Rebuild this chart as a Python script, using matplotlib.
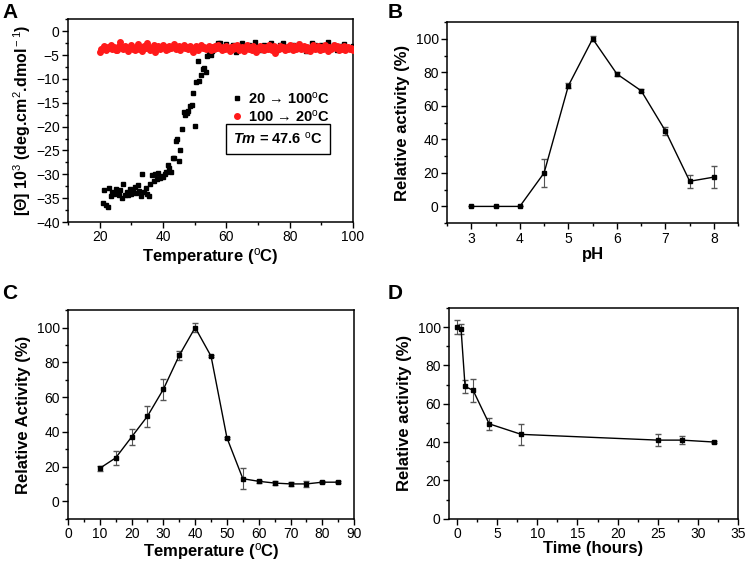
import numpy as np
import matplotlib.pyplot as plt
from matplotlib.ticker import MultipleLocator

plt.rcParams['font.family'] = ['Liberation Sans', 'DejaVu Sans']
plt.rcParams['mathtext.fontset'] = 'custom'
plt.rcParams['mathtext.rm'] = 'Liberation Sans'
plt.rcParams['mathtext.it'] = 'Liberation Sans:italic:bold'
plt.rcParams['mathtext.bf'] = 'Liberation Sans:bold'

# Panel A: CD melting curve
temp_up = [21, 21.5, 22, 22.5, 23, 23.5, 24, 24.5, 25, 25.5, 26, 26.5, 27, 27.5, 28, 28.5,
           29, 29.5, 30, 30.5, 31, 31.5, 32, 32.5, 33, 33.5, 34, 34.5, 35, 35.5, 36, 36.5,
           37, 37.5, 38, 38.5, 39, 39.5, 40, 40.5, 41, 41.5, 42, 42.5, 43, 43.5, 44, 44.5,
           45, 45.5, 46, 46.5, 47, 47.5, 48, 48.5, 49, 49.5, 50, 50.5, 51, 51.5, 52, 52.5,
           53, 53.5, 54, 54.5, 55, 55.5, 56, 56.5, 57, 57.5, 58,
           59, 60, 61, 62, 63, 64, 65, 66, 67, 68, 69, 70, 71, 72, 73, 74, 75, 76, 77, 78,
           79, 80, 81, 82, 83, 84, 85, 86, 87, 88, 89, 90, 91, 92, 93, 94, 95, 96, 97, 98,
           99, 100]
theta_up = [-36.0, -33.3, -36.5, -36.8, -32.8, -34.5, -33.6, -34.2, -33.0, -33.6, -34.4, -33.2,
            -35.0, -32.0, -34.3, -33.6, -34.4, -33.1, -34.2, -33.2, -32.6, -34.0, -32.3, -33.5,
            -34.5, -29.9, -33.8, -32.9, -34.1, -34.6, -32.0, -30.1, -31.5, -30.0, -31.0, -29.8,
            -30.8, -30.3, -30.6, -30.0, -29.6, -28.0, -28.6, -29.5, -26.5, -26.6, -23.0, -22.5,
            -27.3, -25.0, -20.4, -17.0, -17.5, -17.2, -16.8, -15.7, -15.5, -13.0, -19.8, -10.6,
            -6.3, -10.5, -9.2, -8.0, -7.8, -8.5, -5.2, -4.5, -5.0, -4.2, -3.8, -3.3, -2.9, -2.4,
            -2.5,
            -3.5, -2.6, -3.9, -3.0, -4.3, -3.6, -2.4, -3.4, -2.8, -3.8, -2.3, -3.3, -4.0, -2.9,
            -3.7, -2.5, -3.5, -3.9, -3.0, -2.4, -3.4, -3.8, -2.8, -3.6, -2.6, -3.3, -4.1, -3.5,
            -2.5, -3.0, -3.7, -2.8, -3.4, -2.2, -3.6, -2.9, -3.9, -3.1, -2.6, -3.5, -3.7, -3.2]
temp_down = list(np.arange(20, 100.01, 0.5))
theta_down = [-4.3, -3.8, -3.5, -3.2, -3.9, -3.4, -3.6, -2.8, -3.7, -3.3,
              -3.9, -4.0, -3.1, -2.3, -3.6, -3.8, -3.2, -3.5, -4.2, -3.4,
              -3.0, -3.7, -3.9, -3.3, -2.6, -3.8, -3.5, -4.1, -3.2, -3.6,
              -2.5, -3.4, -3.9, -3.7, -3.0, -4.3, -3.5, -3.2, -3.8, -3.6,
              -2.9, -3.4, -4.0, -3.7, -3.1, -3.5, -3.3, -2.7, -3.8, -3.6,
              -3.2, -3.9, -3.4, -3.0, -3.6, -3.3, -3.8, -3.1, -3.5, -4.4,
              -3.7, -3.2, -3.9, -3.4, -3.0, -3.6, -3.3, -3.8, -3.5, -3.1,
              -4.0, -3.4, -3.7, -3.2, -3.6, -2.9, -3.5, -3.9, -3.3, -3.7,
              -3.1, -3.6, -4.1, -3.4, -3.8, -3.2, -3.5, -2.8, -3.9, -3.6,
              -3.3, -4.2, -3.5, -3.0, -3.7, -3.4, -3.9, -3.2, -3.6, -4.3,
              -3.5, -3.1, -3.8, -3.4, -4.0, -3.3, -3.7, -2.9, -3.6, -3.9,
              -3.2, -4.6, -3.5, -3.8, -3.1, -3.6, -3.4, -4.0, -3.3, -3.7,
              -3.0, -3.5, -3.9, -3.2, -3.7, -3.4, -2.6, -3.8, -3.5, -3.1,
              -3.9, -3.3, -3.6, -4.1, -3.4, -2.8, -3.7, -3.5, -3.2, -3.9,
              -3.4, -3.7, -3.0, -3.6, -4.2, -3.3, -3.8, -3.5, -2.9, -3.6,
              -3.2, -3.9, -3.4, -3.7, -3.1, -4.0, -3.5, -3.3, -3.8, -3.6,
              -3.9]

# Panel B: pH profile
ph = [3, 3.5, 4, 4.5, 5, 5.5, 6, 6.5, 7, 7.5, 8]
act_ph = [0, 0, 0, 20, 72, 100, 79, 69, 45, 15, 17.5]
err_ph = [0, 0, 0, 8.5, 1.5, 1.5, 1, 1, 2.5, 4, 6.5]

# Panel C: temperature profile
temp_c = [10, 15, 20, 25, 30, 35, 40, 45, 50, 55, 60, 65, 70, 75, 80, 85]
act_c = [19, 25, 37, 49, 64.5, 84, 100, 83.5, 36.5, 13, 11.5, 10.5, 10, 10, 11, 11]
err_c = [1.5, 4, 4.5, 6, 6, 2.5, 2.5, 0.5, 0.5, 6, 1, 1, 1, 1.5, 0.5, 0.5]

# Panel D: stability over time
hours = [0, 0.5, 1, 2, 4, 8, 25, 28, 32]
act_d = [100, 99, 69, 67, 49.5, 44, 41, 41, 40]
err_d = [3.5, 2.5, 3.5, 6, 3, 5.5, 3, 2, 0.5]

fig = plt.figure(figsize=(7.45, 5.65), dpi=100)
axA = fig.add_axes([0.0913, 0.607, 0.3826, 0.359])
axB = fig.add_axes([0.600, 0.605, 0.391, 0.356])
axC = fig.add_axes([0.0913, 0.082, 0.384, 0.369])
axD = fig.add_axes([0.6027, 0.082, 0.388, 0.373])


def estilo(ax):
    for s in ax.spines.values():
        s.set_linewidth(1.1)
    ax.tick_params(which='major', direction='out', length=4, width=1, labelsize=10, pad=2)
    ax.tick_params(which='minor', direction='out', length=2.5, width=1)


# A
axA.plot(temp_up, theta_up, 's', color='black', ms=3, label=r'20 → 100$^{\rm o}$C', zorder=2)
axA.plot(temp_down, theta_down, 'o', color='#ff1a1a', ms=4, label=r'100 → 20$^{\rm o}$C', zorder=3)
axA.set_xlim(10, 100)
axA.set_ylim(-40, 2.5)
axA.xaxis.set_major_locator(MultipleLocator(20))
axA.xaxis.set_minor_locator(MultipleLocator(10))
axA.yaxis.set_major_locator(MultipleLocator(5))
axA.yaxis.set_minor_locator(MultipleLocator(2.5))
axA.set_xlabel('Temperature ($^{\\rm o}$C)', fontsize=12, fontweight='bold', labelpad=1)
axA.set_ylabel('[Θ] 10$^{\\rm 3}$ (deg.cm$^{\\rm 2}$.dmol$^{\\rm -1}$)', fontsize=11.5,
               fontweight='bold', labelpad=2)
leg = axA.legend(loc='upper left', bbox_to_anchor=(0.54, 0.70), frameon=False,
                 handlelength=0.6, handletextpad=0.5, borderpad=0.2, labelspacing=0.15,
                 prop={'weight': 'bold', 'size': 10.5})
axA.text(0.737, 0.41, r'$Tm$ = 47.6 $^{\rm o}$C', transform=axA.transAxes, ha='center',
         va='center', fontsize=10.5, fontweight='bold',
         bbox=dict(boxstyle='square,pad=0.5', fc='white', ec='black', lw=1))
estilo(axA)

# B
axB.errorbar(ph, act_ph, yerr=err_ph, fmt='-s', color='black', ms=3.5, lw=1,
             ecolor='#555555', elinewidth=0.8, capsize=2.5)
axB.set_xlim(2.5, 8.5)
axB.set_ylim(-10, 110)
axB.xaxis.set_major_locator(MultipleLocator(1))
axB.xaxis.set_minor_locator(MultipleLocator(0.5))
axB.yaxis.set_major_locator(MultipleLocator(20))
axB.yaxis.set_minor_locator(MultipleLocator(10))
axB.set_xlabel('pH', fontsize=12, fontweight='bold', labelpad=1)
axB.set_ylabel('Relative activity (%)', fontsize=12, fontweight='bold', labelpad=4)
estilo(axB)

# C
axC.errorbar(temp_c, act_c, yerr=err_c, fmt='-s', color='black', ms=3.5, lw=1,
             ecolor='#555555', elinewidth=0.8, capsize=2.5)
axC.set_xlim(0, 90)
axC.set_ylim(-10, 110)
axC.xaxis.set_major_locator(MultipleLocator(10))
axC.xaxis.set_minor_locator(MultipleLocator(5))
axC.yaxis.set_major_locator(MultipleLocator(20))
axC.yaxis.set_minor_locator(MultipleLocator(10))
axC.set_xlabel('Temperature ($^{\\rm o}$C)', fontsize=12, fontweight='bold', labelpad=0)
axC.set_ylabel('Relative Activity (%)', fontsize=12, fontweight='bold', labelpad=4)
estilo(axC)

# D
axD.errorbar(hours, act_d, yerr=err_d, fmt='-s', color='black', ms=3.5, lw=1,
             ecolor='#555555', elinewidth=0.8, capsize=2.5)
axD.set_xlim(-1, 35)
axD.set_ylim(0, 110)
axD.xaxis.set_major_locator(MultipleLocator(5))
axD.xaxis.set_minor_locator(MultipleLocator(2.5))
axD.yaxis.set_major_locator(MultipleLocator(20))
axD.yaxis.set_minor_locator(MultipleLocator(10))
axD.set_xlabel('Time (hours)', fontsize=12, fontweight='bold', labelpad=0)
axD.set_ylabel('Relative activity (%)', fontsize=12, fontweight='bold', labelpad=4)
estilo(axD)

# panel letters
for letra, x, y in [('A', 0.003, 0.995), ('B', 0.52, 0.995), ('C', 0.003, 0.497), ('D', 0.52, 0.497)]:
    fig.text(x, y, letra, fontsize=15, fontweight='bold', ha='left', va='top')

fig.savefig('out.png', dpi=100)
